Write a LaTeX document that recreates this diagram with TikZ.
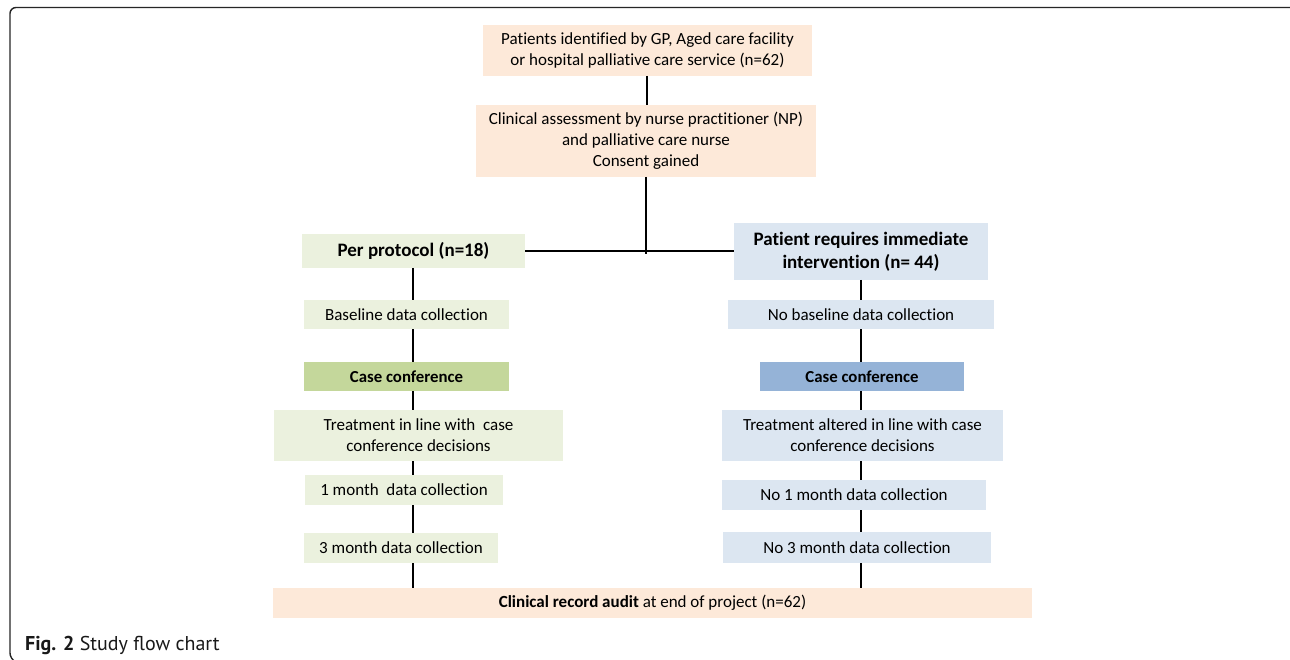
\documentclass[tikz,border=0pt]{standalone}
\usepackage{fontspec}
\setmainfont{Carlito}[Ligatures=NoCommon]
\newfontfamily\capfont{PT Sans}
\definecolor{peach}{HTML}{FDE9D9}
\definecolor{lgreen}{HTML}{EBF1DE}
\definecolor{lblue}{HTML}{DCE6F1}
\definecolor{mgreen}{HTML}{C4D79B}
\definecolor{mblue}{HTML}{95B3D7}
\begin{document}
\begin{tikzpicture}[x=1pt,y=-1pt,
  box/.style={inner sep=0pt, outer sep=0pt, align=center, text=black,
    font=\fontsize{17}{21}\selectfont},
  headbox/.style={box, font=\bfseries\fontsize{19}{23}\selectfont},
  ccbox/.style={box, font=\bfseries\fontsize{16.8}{19}\selectfont},
  link/.style={line width=2pt, black},
  frame/.style={line width=1.4pt, black!85, rounded corners=6pt}]
\useasboundingbox (0,0) rectangle (1290,660);
\fill[white] (0,0) rectangle (1290,660);
\draw[frame] (1290,7.5) -- (10,7.5) -- (10,659) -- (14,661);

% top
\node[box, fill=peach, minimum width=329pt, minimum height=51pt] (A) at (647.5,50.5)
  {Patients identified by GP, Aged care facility\\or hospital palliative care service (n=62)};
\node[box, fill=peach, minimum width=340pt, minimum height=72pt] (B) at (646,141)
  {Clinical assessment by nurse practitioner (NP)\\and palliative care nurse\\Consent gained};

% branch heads
\node[headbox, fill=lgreen, minimum width=223pt, minimum height=34pt] (PP) at (413.5,251) {Per protocol (n=18)};
\node[headbox, fill=lblue, minimum width=254pt, minimum height=57pt] (PR) at (861,251.5)
  {Patient requires immediate\\intervention (n= 44)};

% left column
\node[box, fill=lgreen, minimum width=205pt, minimum height=29pt] (BL) at (406.5,314.5) {Baseline data collection};
\node[ccbox, fill=mgreen, minimum width=205pt, minimum height=29pt] (CCL) at (406.5,376.5) {Case conference};
\node[box, fill=lgreen, minimum width=289pt, minimum height=51pt] (TL) at (418.5,435.5)
  {Treatment in line with~ case\\conference decisions};
\node[box, fill=lgreen, minimum width=198pt, minimum height=30pt] (M1) at (404,490) {1 month~ data collection};
\node[box, fill=lgreen, minimum width=194pt, minimum height=30pt] (M3) at (401,548) {3 month data collection};

% right column
\node[box, fill=lblue, minimum width=266pt, minimum height=29pt] (NB) at (861,314.5) {No baseline data collection};
\node[ccbox, fill=mblue, minimum width=204pt, minimum height=29pt] (CCR) at (862,376.5) {Case conference};
\node[box, fill=lblue, minimum width=281pt, minimum height=51pt] (TR) at (862.5,435.5)
  {Treatment altered in line with case\\conference decisions};
\node[box, fill=lblue, minimum width=264pt, minimum height=30pt] (N1) at (854,495) {No 1 month data collection};
\node[box, fill=lblue, minimum width=268pt, minimum height=31pt] (N3) at (857,547.5) {No 3 month data collection};

% bottom
\node[box, fill=peach, minimum width=759pt, minimum height=30pt] (AU) at (652.5,603)
  {\textbf{Clinical record audit} at end of project (n=62)};

% caption
\node[anchor=base west, inner sep=0pt, text=black!90] (CAP) at (25,650)
  {\capfont\fontsize{20}{23}\selectfont\textbf{Fig. 2} Study flow chart};

% connector guides
\coordinate (mc) at (647,0);
\coordinate (J) at (646,254);
\coordinate (lc) at (413,0);
\coordinate (rc) at (861,0);

\draw[link] (A.south -| mc) -- (B.north -| mc);
\draw[link] (B.south -| J) -- (J);
\draw[link] (PP.east) -- (PR.west |- PP.east);

\draw[link] (PP.south -| lc) -- (BL.north -| lc);
\draw[link] (BL.south -| lc) -- (CCL.north -| lc);
\draw[link] (CCL.south -| lc) -- (TL.north -| lc);
\draw[link] (TL.south -| lc) -- (M1.north -| lc);
\draw[link] (M1.south -| lc) -- (M3.north -| lc);
\draw[link] (M3.south -| lc) -- (AU.north -| lc);

\draw[link] (PR.south -| rc) -- (NB.north -| rc);
\draw[link] (NB.south -| rc) -- (CCR.north -| rc);
\draw[link] (CCR.south -| rc) -- (TR.north -| rc);
\draw[link] (TR.south -| rc) -- (N1.north -| rc);
\draw[link] (N1.south -| rc) -- (N3.north -| rc);
\draw[link] (N3.south -| rc) -- (AU.north -| rc);
\end{tikzpicture}
\end{document}
